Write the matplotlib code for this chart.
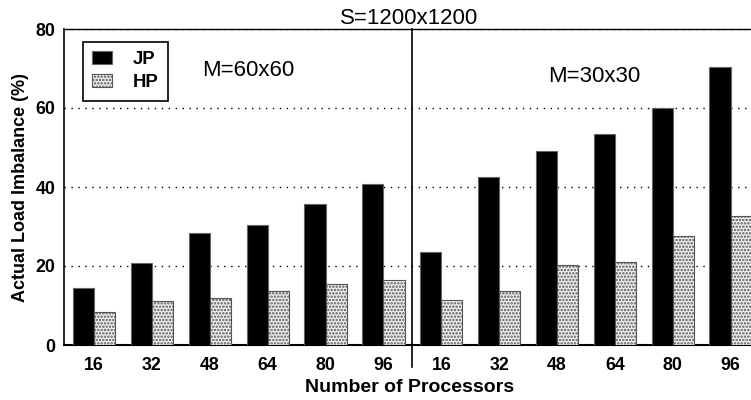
import matplotlib
matplotlib.use('Agg')
import matplotlib.pyplot as plt
import numpy as np

plt.rcParams['font.family'] = ['Liberation Sans', 'DejaVu Sans']
plt.rcParams['hatch.linewidth'] = 1.2

# data
procs = [16, 32, 48, 64, 80, 96]
jp_60 = [14.5, 20.8, 28.4, 30.5, 35.7, 40.8]
hp_60 = [8.3, 11.1, 12.0, 13.7, 15.4, 16.5]
jp_30 = [23.5, 42.5, 49.2, 53.5, 59.9, 70.5]
hp_30 = [11.4, 13.7, 20.3, 21.0, 27.6, 32.6]

jp = jp_60 + jp_30
hp = hp_60 + hp_30
tick_labels = [str(p) for p in procs] * 2
x = np.arange(len(jp))
w = 0.365

fig = plt.figure(figsize=(7.51, 4.0), dpi=100)
ax = fig.add_axes([0.0852, 0.1375, 0.92, 0.79])

ax.bar(x - w / 2, jp, w, color='black', edgecolor='#666666', linewidth=0.8,
       label='JP', zorder=3)
ax.bar(x + w / 2, hp, w, color='#f2f2f2', edgecolor='#555555', linewidth=0.8,
       hatch='.....', label='HP', zorder=3)

ax.set_xlim(-0.52, 11.42)
ax.set_ylim(0, 80)
ax.set_yticks([0, 20, 40, 60, 80])
ax.set_xticks(x)
ax.set_xticklabels(tick_labels)
ax.tick_params(length=0, labelsize=12.8)
ax.tick_params(axis='x', pad=9)
ax.tick_params(axis='y', pad=6)
for lab in ax.get_xticklabels() + ax.get_yticklabels():
    lab.set_fontweight('bold')

for yv in [20, 40, 60, 80]:
    ax.axhline(yv, color='black', linestyle=(0, (1, 4)), linewidth=1, zorder=1)

ax.spines['right'].set_visible(False)
ax.spines['top'].set_linewidth(1.0)
ax.spines['left'].set_linewidth(1.2)
ax.spines['bottom'].set_linewidth(1.5)

# divider between the two groups
ax.plot([5.5, 5.5], [-0.07, 1.0], transform=ax.get_xaxis_transform(),
        color='black', linewidth=1.2, clip_on=False, zorder=4)

ax.set_title('S=1200x1200', fontsize=16, pad=3)
ax.text(2.66, 69.4, 'M=60x60', fontsize=16, ha='center', va='center')
ax.text(8.64, 68.1, 'M=30x30', fontsize=16, ha='center', va='center')

ax.set_ylabel('Actual Load Imbalance (%)', fontsize=13, fontweight='bold',
              labelpad=5)
ax.set_xlabel('Number of Processors', fontsize=14, fontweight='bold',
              labelpad=3)

leg = ax.legend(loc='upper left', bbox_to_anchor=(0.027, 0.96),
                prop={'weight': 'bold', 'size': 13.3}, fancybox=False,
                edgecolor='black', framealpha=1, handlelength=1.1,
                handleheight=0.7, borderpad=0.5, labelspacing=0.35,
                handletextpad=1.1, borderaxespad=0)
leg.get_frame().set_linewidth(1.2)

fig.savefig('out.png', dpi=100)
